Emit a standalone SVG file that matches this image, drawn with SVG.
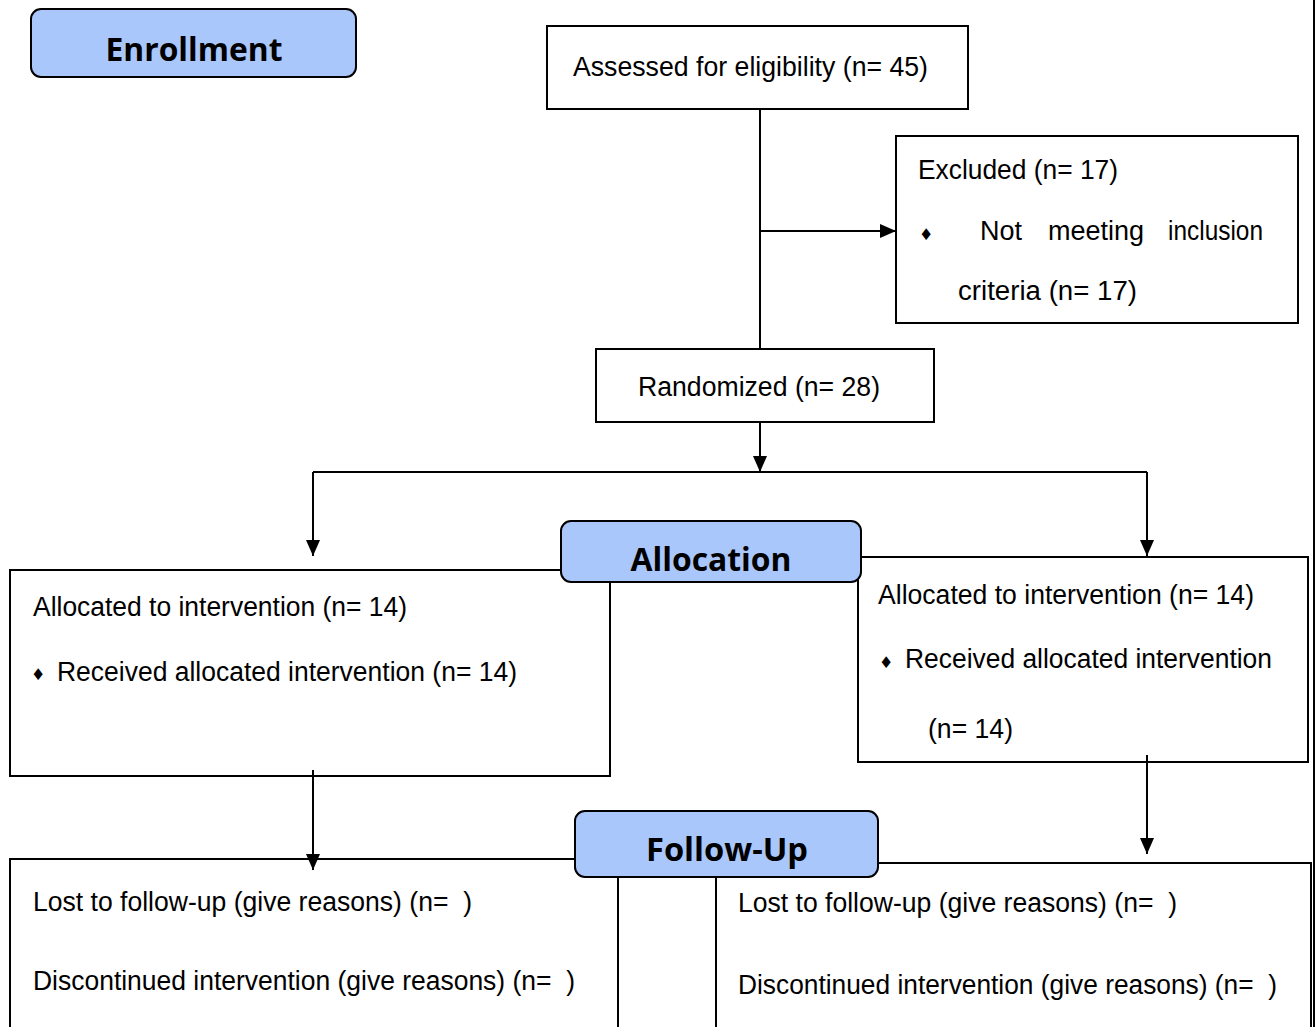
<svg xmlns="http://www.w3.org/2000/svg" width="1316" height="1027" viewBox="0 0 1316 1027">
<style>
.box{fill:#ffffff;stroke:#000;stroke-width:2}
.stage{fill:#a9c7fb;stroke:#000;stroke-width:2}
.t{font-family:"Liberation Sans",Arial,sans-serif;font-size:27px;fill:#000}
.h{font-family:"Open Sans","Noto Sans",sans-serif;font-weight:bold;font-size:33px;fill:#000;text-anchor:middle}
.b{font-family:"DejaVu Sans",sans-serif;font-size:16px;fill:#000}
.c{stroke:#000;stroke-width:2;fill:none}
</style>
<defs>
<marker id="arr" markerUnits="userSpaceOnUse" markerWidth="16" markerHeight="16" viewBox="0 0 16 16" refX="16" refY="8" orient="auto">
<path d="M0,1 L16,8 L0,15 Z" fill="#000"/>
</marker>
</defs>
<rect width="1316" height="1027" fill="#fff"/>
<line x1="1314" y1="0" x2="1314" y2="1027" stroke="#000" stroke-width="2"/>

<g id="enrollment">
<rect class="stage" x="31" y="9" width="325" height="68" rx="10"/>
<text class="h" x="194" y="61" textLength="177" lengthAdjust="spacingAndGlyphs">Enrollment</text>
</g>

<g id="assessed">
<rect class="box" x="547" y="26" width="421" height="83"/>
<text class="t" x="573" y="76" textLength="355" lengthAdjust="spacingAndGlyphs">Assessed for eligibility (n= 45)</text>
</g>

<g id="excluded">
<rect class="box" x="896" y="136" width="402" height="187"/>
<text class="t" x="918" y="179" textLength="200" lengthAdjust="spacingAndGlyphs">Excluded (n= 17)</text>
<text class="b" x="919" y="240">♦</text>
<text class="t" x="980" y="240">Not</text>
<text class="t" x="1048" y="240">meeting</text>
<text class="t" x="1168" y="240" textLength="95" lengthAdjust="spacingAndGlyphs">inclusion</text>
<text class="t" x="958" y="300" textLength="179" lengthAdjust="spacingAndGlyphs">criteria (n= 17)</text>
</g>

<g id="randomized">
<rect class="box" x="596" y="349" width="338" height="73"/>
<text class="t" x="638" y="396" textLength="242" lengthAdjust="spacingAndGlyphs">Randomized (n= 28)</text>
</g>

<g id="alloc-left">
<rect class="box" x="10" y="570" width="600" height="206"/>
<text class="t" x="33" y="616" textLength="374" lengthAdjust="spacingAndGlyphs">Allocated to intervention (n= 14)</text>
<text class="b" x="31" y="680">♦</text>
<text class="t" x="57" y="681" textLength="460" lengthAdjust="spacingAndGlyphs">Received allocated intervention (n= 14)</text>
</g>

<g id="alloc-right">
<rect class="box" x="858" y="557" width="450" height="205"/>
<text class="t" x="878" y="604" textLength="376" lengthAdjust="spacingAndGlyphs">Allocated to intervention (n= 14)</text>
<text class="b" x="879" y="668">♦</text>
<text class="t" x="905" y="668" textLength="367" lengthAdjust="spacingAndGlyphs">Received allocated intervention</text>
<text class="t" x="928" y="738" textLength="85" lengthAdjust="spacingAndGlyphs">(n= 14)</text>
</g>

<g id="allocation">
<rect class="stage" x="561" y="521" width="300" height="61" rx="10"/>
<text class="h" x="711" y="571" textLength="161" lengthAdjust="spacingAndGlyphs">Allocation</text>
</g>

<g id="follow-left">
<rect class="box" x="10" y="859" width="608" height="180"/>
<text class="t" x="33" y="911" xml:space="preserve" textLength="439" lengthAdjust="spacingAndGlyphs">Lost to follow-up (give reasons) (n=  )</text>
<text class="t" x="33" y="990" xml:space="preserve" textLength="542" lengthAdjust="spacingAndGlyphs">Discontinued intervention (give reasons) (n=  )</text>
</g>

<g id="follow-right">
<rect class="box" x="716" y="863" width="595" height="180"/>
<text class="t" x="738" y="912" xml:space="preserve" textLength="439" lengthAdjust="spacingAndGlyphs">Lost to follow-up (give reasons) (n=  )</text>
<text class="t" x="738" y="994" xml:space="preserve" textLength="539" lengthAdjust="spacingAndGlyphs">Discontinued intervention (give reasons) (n=  )</text>
</g>

<g id="followup">
<rect class="stage" x="575" y="811" width="303" height="66" rx="10"/>
<text class="h" x="727" y="861" textLength="162" lengthAdjust="spacingAndGlyphs">Follow-Up</text>
</g>

<g id="connectors">
<line class="c" x1="760" y1="109" x2="760" y2="349"/>
<line class="c" x1="760" y1="231" x2="896" y2="231" marker-end="url(#arr)"/>
<line class="c" x1="760" y1="422" x2="760" y2="472" marker-end="url(#arr)"/>
<line class="c" x1="313" y1="472" x2="1147" y2="472"/>
<line class="c" x1="313" y1="472" x2="313" y2="556" marker-end="url(#arr)"/>
<line class="c" x1="1147" y1="472" x2="1147" y2="556" marker-end="url(#arr)"/>
<line class="c" x1="313" y1="770" x2="313" y2="870" marker-end="url(#arr)"/>
<line class="c" x1="1147" y1="755" x2="1147" y2="854" marker-end="url(#arr)"/>
</g>
</svg>
